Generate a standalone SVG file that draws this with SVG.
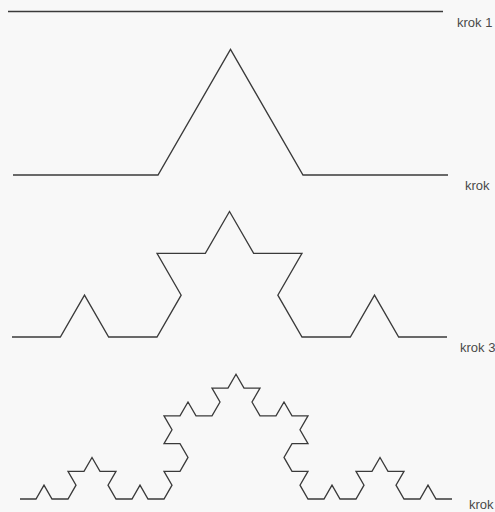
<svg xmlns="http://www.w3.org/2000/svg" width="495" height="512" viewBox="0 0 495 512">
<style>
.curve{fill:none;stroke:#3a3a3a;stroke-width:1.3;stroke-linejoin:miter;stroke-linecap:butt}
.lbl{font-family:"Liberation Sans",Arial,sans-serif;font-size:13px;fill:#4a4a4a}
</style>
<rect width="495" height="512" fill="#f8f8f8"/>
<g id="krok1">
<path class="curve" d="M8 11.5 L443 11.5"/>
<text class="lbl" x="457" y="27">krok 1</text>
</g>
<g id="krok2">
<path class="curve" d="M13 175 L158 175 L230.5 49.4 L303 175 L448 175"/>
<text class="lbl" x="465" y="190">krok</text>
</g>
<g id="krok3">
<path class="curve" d="M12 337 l48.333 0 24.167 -41.858 24.167 41.858 48.333 0 24.167 -41.858 -24.167 -41.858 48.333 0 24.167 -41.858 24.167 41.858 48.333 0 -24.167 41.858 24.167 41.858 48.333 0 24.167 -41.858 24.167 41.858 48.333 0"/>
<text class="lbl" x="460" y="352">krok 3</text>
</g>
<g id="krok4">
<path class="curve" d="M20 499
l16 0 8 -13.856 8 13.856 16 0
8 -13.856 -8 -13.856 16 0 8 -13.856
8 13.856 16 0 -8 13.856 8 13.856
16 0 8 -13.856 8 13.856 16 0
8 -13.856 -8 -13.856 16 0 8 -13.856
-8 -13.856 -16 0 8 -13.856 -8 -13.856
16 0 8 -13.856 8 13.856 16 0
8 -13.856 -8 -13.856 16 0 8 -13.856
8 13.856 16 0 -8 13.856 8 13.856
16 0 8 -13.856 8 13.856 16 0
-8 13.856 8 13.856 -16 0 -8 13.856
8 13.856 16 0 -8 13.856 8 13.856
16 0 8 -13.856 8 13.856 16 0
8 -13.856 -8 -13.856 16 0 8 -13.856
8 13.856 16 0 -8 13.856 8 13.856
16 0 8 -13.856 8 13.856 16 0"/>
<text class="lbl" x="469" y="509">krok</text>
</g>
</svg>
